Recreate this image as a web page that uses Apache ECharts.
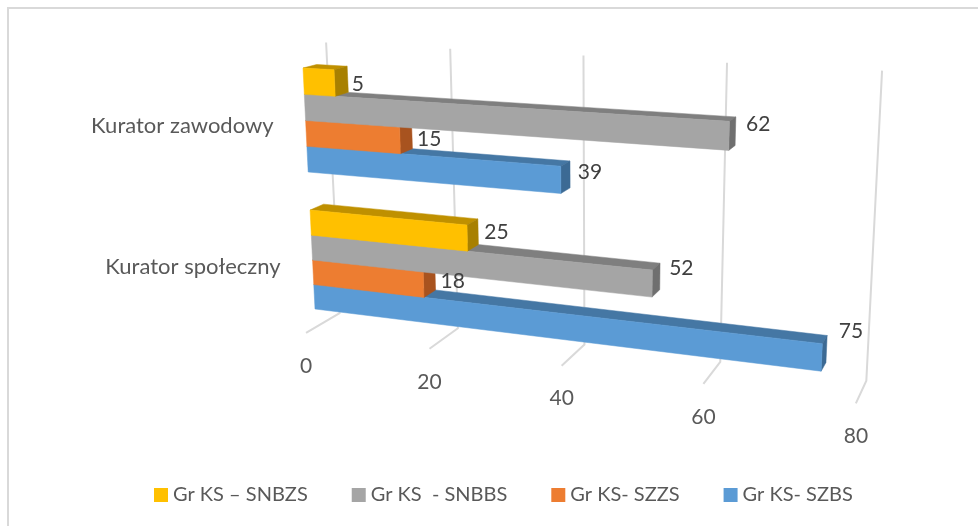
<!DOCTYPE html>
<html>
<head>
<meta charset="utf-8">
<style>
html, body { margin: 0; padding: 0; background: #fff; }
#chart { width: 978px; height: 526px; }
</style>
<script src="https://cdn.jsdelivr.net/npm/echarts@6/dist/echarts.min.js"></script>
</head>
<body>
<div id="chart"></div>
<script>
const categories = ['Kurator zawodowy', 'Kurator społeczny'];
const seriesNames = ['Gr KS – SNBZS', 'Gr KS  - SNBBS', 'Gr KS- SZZS', 'Gr KS- SZBS'];
const snbzs = [5, 25];
const snbbs = [62, 52];
const szzs = [15, 18];
const szbs = [39, 75];
const xTicks = [0, 20, 40, 60, 80];

const fontFamily = 'Lato, "Open Sans", sans-serif';
const faces = [
    { front: '#FFC000', top: '#BF9000', side: '#A88000' },
    { front: '#A5A5A5', top: '#7F7F7F', side: '#6F6F6F' },
    { front: '#ED7D31', top: '#B85F25', side: '#A8531F' },
    { front: '#5B9BD5', top: '#4577A4', side: '#3C6A94' }
];

// front plane of the bars as seen in the picture, value 0..80 by row 0..9.5
const quad = [[303, 68], [874, 100], [860, 376], [315, 309]];
const vanish = [1105, -137]; // depth lines run towards this point
const barDepth = 0.017;
const wallDepth = 0.03;
const floorDepth = -0.0125;
const maxRow = 9.5;
const catStep = 5.5;
const rowPad = 0.75;

const [p0, p1, p2, p3] = quad;
const dx1 = p1[0] - p2[0], dx2 = p3[0] - p2[0], dx3 = p0[0] - p1[0] + p2[0] - p3[0];
const dy1 = p1[1] - p2[1], dy2 = p3[1] - p2[1], dy3 = p0[1] - p1[1] + p2[1] - p3[1];
const den = dx1 * dy2 - dx2 * dy1;
const g = (dx3 * dy2 - dx2 * dy3) / den;
const h = (dx1 * dy3 - dx3 * dy1) / den;

// axis pixel -> picture pixel
function project(pt, cs, depth) {
    const u = (pt[0] - cs.x) / cs.width;
    const t = (pt[1] - cs.y) / cs.height;
    const w = g * u + h * t + 1;
    const x = ((p1[0] - p0[0] + g * p1[0]) * u + (p3[0] - p0[0] + h * p3[0]) * t + p0[0]) / w;
    const y = ((p1[1] - p0[1] + g * p1[1]) * u + (p3[1] - p0[1] + h * p3[1]) * t + p0[1]) / w;
    return [x + (vanish[0] - x) * depth, y + (vanish[1] - y) * depth];
}

function poly(points, fill) {
    return { type: 'polygon', shape: { points: points }, style: { fill: fill, stroke: fill, lineWidth: 0.5 } };
}

function barSeries(name, values, rank) {
    const face = faces[rank];
    return {
        name: name,
        type: 'custom',
        coordinateSystem: 'cartesian2d',
        itemStyle: { color: face.front },
        silent: true,
        data: values.map((v, i) => [v, i]),
        renderItem: function (params, api) {
            const cs = params.coordSys;
            const v = api.value(0);
            const row = api.value(1) * catStep + rank;
            const a = api.coord([0, row]);
            const b = api.coord([v, row]);
            const c = api.coord([v, row + 1]);
            const d = api.coord([0, row + 1]);
            const fa = project(a, cs, 0), fb = project(b, cs, 0), fc = project(c, cs, 0), fd = project(d, cs, 0);
            const ba = project(a, cs, barDepth), bb = project(b, cs, barDepth), bc = project(c, cs, barDepth);
            const midRow = row + 0.5;
            const lift = v * (0.2 + 0.02 * midRow) - 2.5;
            return {
                type: 'group',
                children: [
                    poly([fa, fb, bb, ba], face.top),
                    poly([fb, fc, bc, bb], face.side),
                    poly([fa, fb, fc, fd], face.front),
                    {
                        type: 'text',
                        z2: 10,
                        style: {
                            x: (fb[0] + fc[0]) / 2 + 17,
                            y: (fb[1] + fc[1]) / 2 - lift,
                            text: String(v),
                            fill: '#404040',
                            font: '21px ' + fontFamily,
                            align: 'left',
                            verticalAlign: 'middle'
                        }
                    }
                ]
            };
        }
    };
}

const gridSeries = {
    type: 'custom',
    coordinateSystem: 'cartesian2d',
    silent: true,
    data: xTicks.map(v => [v]),
    renderItem: function (params, api) {
        const cs = params.coordSys;
        const v = api.value(0);
        const top = api.coord([v, -rowPad]);
        const bottom = api.coord([v, maxRow + rowPad]);
        const front = project(bottom, cs, floorDepth);
        return {
            type: 'group',
            children: [
                {
                    type: 'polyline',
                    shape: { points: [project(top, cs, wallDepth), project(bottom, cs, wallDepth), front] },
                    style: { fill: null, stroke: '#D9D9D9', lineWidth: 2 }
                },
                {
                    type: 'text',
                    style: {
                        x: front[0],
                        y: front[1] + 33,
                        text: String(v),
                        fill: '#595959',
                        font: '21px ' + fontFamily,
                        align: 'center',
                        verticalAlign: 'middle'
                    }
                }
            ]
        };
    }
};

const categorySeries = {
    type: 'custom',
    coordinateSystem: 'cartesian2d',
    silent: true,
    data: categories.map((c, i) => [0, i]),
    renderItem: function (params, api) {
        const i = api.value(1);
        const p = project(api.coord([0, i * catStep + 2]), params.coordSys, floorDepth);
        return {
            type: 'text',
            style: {
                x: p[0] - 22,
                y: p[1] + 2,
                text: categories[i],
                fill: '#595959',
                font: '22px ' + fontFamily,
                align: 'right',
                verticalAlign: 'middle'
            }
        };
    }
};

const chart = echarts.init(document.getElementById('chart'), null, { renderer: 'canvas' });
chart.setOption({
    animation: false,
    backgroundColor: '#fff',
    graphic: [{
        type: 'polyline',
        shape: { points: [[978, 8], [8, 8], [8, 526]] },
        style: { fill: null, stroke: '#D9D9D9', lineWidth: 2 },
        silent: true
    }],
    legend: {
        left: 149,
        top: 480,
        padding: 5,
        itemWidth: 14,
        itemHeight: 14,
        itemGap: 44,
        icon: 'rect',
        data: seriesNames,
        textStyle: { color: '#595959', fontSize: 20, fontFamily: fontFamily }
    },
    grid: { left: 303, top: 68, width: 571, height: 241 },
    xAxis: { type: 'value', min: 0, max: 80, interval: 20, show: false },
    yAxis: { type: 'value', min: 0, max: maxRow, inverse: true, show: false },
    // blue first: the bars above it rest on its top face
    series: [
        gridSeries,
        categorySeries,
        barSeries(seriesNames[3], szbs, 3),
        barSeries(seriesNames[2], szzs, 2),
        barSeries(seriesNames[1], snbbs, 1),
        barSeries(seriesNames[0], snbzs, 0)
    ]
});
</script>
</body>
</html>
